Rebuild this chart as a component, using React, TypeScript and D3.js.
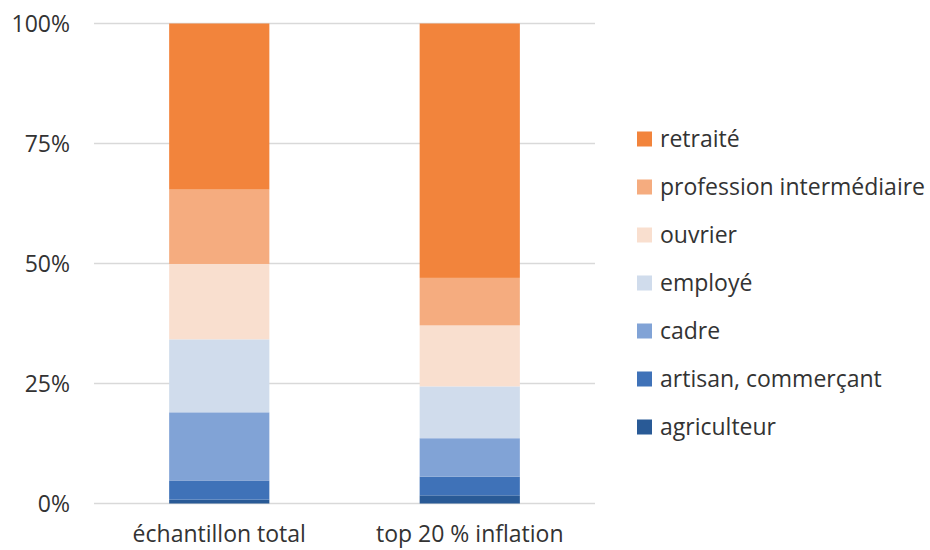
import React, { useEffect, useRef } from 'react';
import * as d3 from 'd3';

const groups = ['échantillon total', 'top 20 % inflation'];
// stacked from bottom to top
const categories = ['agriculteur', 'artisan, commerçant', 'cadre', 'employé', 'ouvrier', 'profession intermédiaire', 'retraité'];
const totalSample = [0.8, 4.0, 14.2, 15.2, 15.7, 15.5, 34.6];
const topInflation = [1.7, 3.9, 8.0, 10.8, 12.7, 9.9, 53.0];
const colors = ['#295A96', '#3F72B8', '#81A3D6', '#D0DCEC', '#F9DFCF', '#F5AC7F', '#F2843C'];
const yTicks = [0, 25, 50, 75, 100];

const App: React.FC = () => {
  const svgRef = useRef<SVGSVGElement>(null);

  useEffect(() => {
    if (!svgRef.current) return;
    document.body.style.margin = '0';
    const width = 930;
    const height = 550;
    const font = '"Open Sans", Lato, sans-serif';
    const textColor = '#333333';

    const svg = d3.select(svgRef.current)
      .attr('width', width)
      .attr('height', height);
    svg.selectAll('*').remove();

    svg.append('rect').attr('width', width).attr('height', height).style('fill', 'white');

    const x = d3.scaleBand<string>().domain(groups).range([94, 595]).paddingInner(0.6).paddingOuter(0.3);
    const y = d3.scaleLinear().domain([0, 100]).range([503.5, 23.5]);

    // gridlines
    svg.append('g')
      .selectAll('line')
      .data(yTicks)
      .enter().append('line')
      .attr('x1', 94)
      .attr('x2', 595)
      .attr('y1', d => y(d))
      .attr('y2', d => y(d))
      .style('stroke', '#D9D9D9')
      .style('stroke-width', 1.5);

    // y labels
    svg.append('g')
      .selectAll('text')
      .data(yTicks)
      .enter().append('text')
      .attr('x', 70)
      .attr('y', d => y(d))
      .attr('dy', '0.35em')
      .style('text-anchor', 'end')
      .style('font-family', font)
      .style('font-size', '23px')
      .style('fill', textColor)
      .text(d => `${d}%`);

    const rows = groups.map((g, i) => {
      const vals = i === 0 ? totalSample : topInflation;
      const row: Record<string, any> = { group: g };
      categories.forEach((c, j) => { row[c] = vals[j]; });
      return row;
    });
    const stack = d3.stack<Record<string, any>>().keys(categories)(rows);

    svg.append('g')
      .selectAll('g')
      .data(stack)
      .enter().append('g')
      .style('fill', (d, i) => colors[i])
      .selectAll('rect')
      .data(d => d)
      .enter().append('rect')
      .attr('x', d => x(d.data.group)!)
      .attr('width', x.bandwidth())
      .attr('y', d => y(d[1]))
      .attr('height', d => y(d[0]) - y(d[1]));

    // x labels
    svg.append('g')
      .selectAll('text')
      .data(groups)
      .enter().append('text')
      .attr('x', d => x(d)! + x.bandwidth() / 2)
      .attr('y', 542)
      .style('text-anchor', 'middle')
      .style('font-family', font)
      .style('font-size', '23px')
      .style('fill', textColor)
      .text(d => d);

    // legend (top to bottom: reversed order)
    const legendItems = categories.map((c, i) => ({ name: c, color: colors[i] })).reverse();
    const legend = svg.append('g')
      .selectAll('g')
      .data(legendItems)
      .enter().append('g')
      .attr('transform', (d, i) => `translate(637,${139 + i * 48})`);

    legend.append('rect')
      .attr('x', 0)
      .attr('y', -7.5)
      .attr('width', 15)
      .attr('height', 15)
      .style('fill', d => d.color);

    legend.append('text')
      .attr('x', 23)
      .attr('y', 0)
      .attr('dy', '0.35em')
      .style('font-family', font)
      .style('font-size', '23px')
      .style('fill', textColor)
      .text(d => d.name);
  }, []);

  return (
    <div>
      <svg ref={svgRef} style={{ display: 'block' }}></svg>
    </div>
  );
};

export default App;
